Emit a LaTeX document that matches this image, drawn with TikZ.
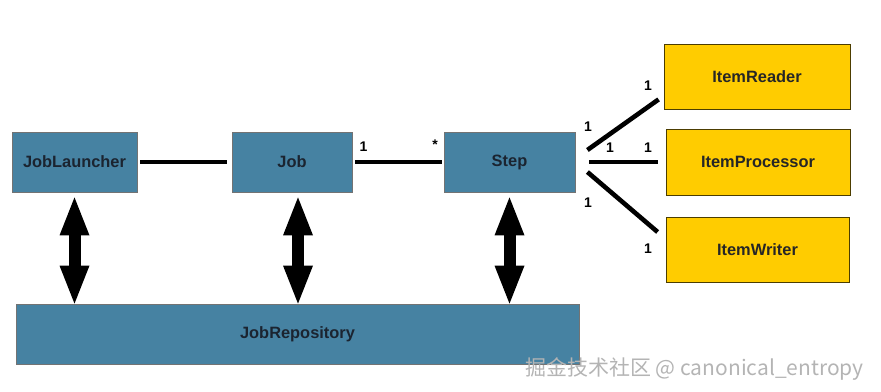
\documentclass[tikz,border=0pt]{standalone}
\usepackage{fontspec}
\setmainfont{Liberation Sans}
\newfontfamily\cjk{Noto Sans CJK SC}
\usetikzlibrary{arrows.meta,calc}
\definecolor{boxblue}{HTML}{4682A2}
\definecolor{boxyellow}{HTML}{FFCC00}
\definecolor{txtdark}{HTML}{1B2430}
\definecolor{wmgray}{HTML}{B4B4B4}
\begin{document}
\begin{tikzpicture}[x=1pt,y=-1pt,
  box/.style={draw=black!55,line width=0.8pt,inner sep=0pt,text=txtdark,
    font=\bfseries\fontsize{16.4}{18}\selectfont},
  bluebox/.style={box,fill=boxblue},
  yellowbox/.style={box,fill=boxyellow,draw=black!50!boxyellow!60!black,text=black!85},
  link/.style={line width=4.6pt,line cap=butt},
  mult/.style={font=\bfseries\fontsize{14}{16}\selectfont,text=black,inner sep=0pt},
  fattip/.tip={Triangle[width=30pt,length=38pt,line width=0pt]},
  fat/.style={line width=12pt,fattip-fattip}]
\useasboundingbox (0,0) rectangle (881,391);
% boxes
\node[bluebox,minimum width=125pt,minimum height=60pt] (jl) at (74.5,162) {JobLauncher};
\node[bluebox,minimum width=120pt,minimum height=60pt] (job) at (292,162) {Job};
\node[bluebox,minimum width=131pt,minimum height=60pt] (step) at (509.5,162) {Step};
\node[bluebox,minimum width=563pt,minimum height=60pt] (repo) at (297.5,334) {JobRepository};
\node[yellowbox,minimum width=186pt,minimum height=65pt] (reader) at (757,76.5) {ItemReader};
\node[yellowbox,minimum width=184pt,minimum height=66pt] (proc) at (758,162) {ItemProcessor};
\node[yellowbox,minimum width=183pt,minimum height=65pt] (writer) at (757.5,249.5) {ItemWriter};
% horizontal links
\draw[link,shorten <=3pt,shorten >=5pt] (jl) -- (job);
\draw[link,shorten <=3pt,shorten >=2pt] (job) -- (step);
\node[mult] (m1) at (363.5,147) {1};
\node[mult] (m2) at (435,145) {*};
% step to items
\coordinate (s1) at ($(step.east)+(12,-12)$);
\coordinate (s2) at ($(step.east)+(14,0)$);
\coordinate (s3) at ($(step.east)+(12,10)$);
\coordinate (r1) at ($(reader.south west)+(-5,-10)$);
\coordinate (p1) at ($(proc.west)+(-8,0)$);
\coordinate (w1) at ($(writer.west)+(-8,-17.5)$);
\draw[link] (s1) -- (r1);
\draw[link] (s2) -- (p1);
\draw[link] (s3) -- (w1);
\node[mult] (m3) at (648,86) {1};
\node[mult] (m4) at (588,126.5) {1};
\node[mult] (m5) at (610,147.5) {1};
\node[mult] (m6) at (648,147.5) {1};
\node[mult] (m7) at (588,202.5) {1};
\node[mult] (m8) at (648,248.5) {1};
% repository arrows
\draw[fat,shorten <=5pt] (jl.south) -- (jl.south |- repo.north);
\draw[fat,shorten <=5pt] ([xshift=6pt]job.south) -- ([xshift=6pt]job.south |- repo.north);
\draw[fat,shorten <=5pt] (step.south) -- (step.south |- repo.north);
% watermark
\node[anchor=base west,inner sep=0pt,text=wmgray,font=\cjk\fontsize{21}{23}\selectfont] (wm) at (525,375) {掘金技术社区 @ canonical\_entropy};
\end{tikzpicture}
\end{document}
